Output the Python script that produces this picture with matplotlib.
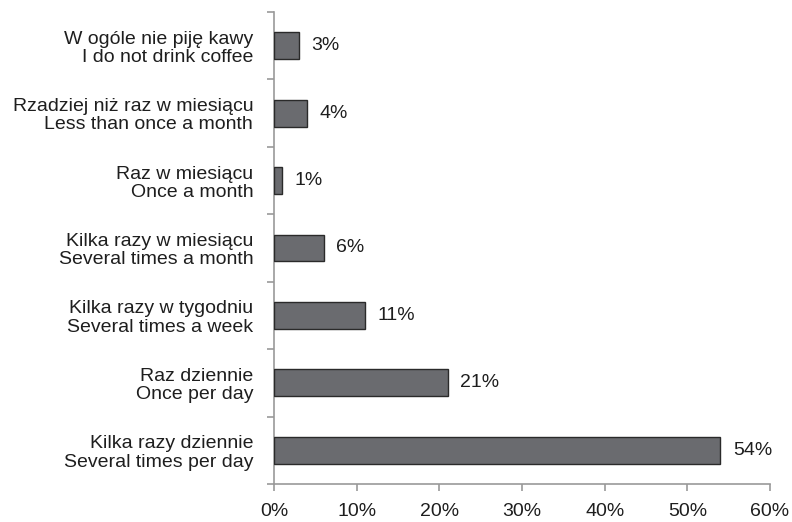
import matplotlib
matplotlib.use("Agg")
import matplotlib.pyplot as plt
import numpy as np

categories = [
    "W ogóle nie piję kawy\nI do not drink coffee",
    "Rzadziej niż raz w miesiącu\nLess than once a month",
    "Raz w miesiącu\nOnce a month",
    "Kilka razy w miesiącu\nSeveral times a month",
    "Kilka razy w tygodniu\nSeveral times a week",
    "Raz dziennie\nOnce per day",
    "Kilka razy dziennie\nSeveral times per day",
]
values = [3, 4, 1, 6, 11, 21, 54]
xticks = [0, 10, 20, 30, 40, 50, 60]

plt.rcParams['font.family'] = ['Liberation Sans', 'DejaVu Sans']

fig = plt.figure(figsize=(7.92, 5.22), dpi=100)
ax = fig.add_axes([274/792, 38/522, 496/792, 472/522])

n = len(categories)
ypos = np.arange(n)[::-1]  # first category on top
ax.barh(ypos, values, height=0.4, color='#6a6b6f', edgecolor='#2a2a2a', linewidth=1.0, zorder=3)

for y, v in zip(ypos, values):
    ax.text(v + 1.5, y, f"{v}%", va='center', ha='left', fontsize=14, color='#1e1e1e')

ax.set_xlim(0, 60)
ax.set_ylim(-0.5, n - 0.5)
ax.set_xticks(xticks)
ax.set_xticklabels([f"{t}%" for t in xticks], fontsize=14, color='#1e1e1e')
ax.set_yticks(ypos)
ax.set_yticklabels(categories, fontsize=14, color='#1e1e1e', ha='right',
                   multialignment='right', linespacing=1.1)
ax.set_yticks(np.arange(-0.5, n, 1.0), minor=True)

for s in ['top', 'right']:
    ax.spines[s].set_visible(False)
for s in ['left', 'bottom']:
    ax.spines[s].set_color('#999999')
    ax.spines[s].set_linewidth(1.2)

ax.tick_params(axis='y', which='major', length=0, pad=15)
ax.tick_params(axis='y', which='minor', length=5, color='#999999', width=1.2)
ax.tick_params(axis='x', which='major', length=5, color='#999999', width=1.2, pad=9)

fig.savefig("out.png", dpi=100)
